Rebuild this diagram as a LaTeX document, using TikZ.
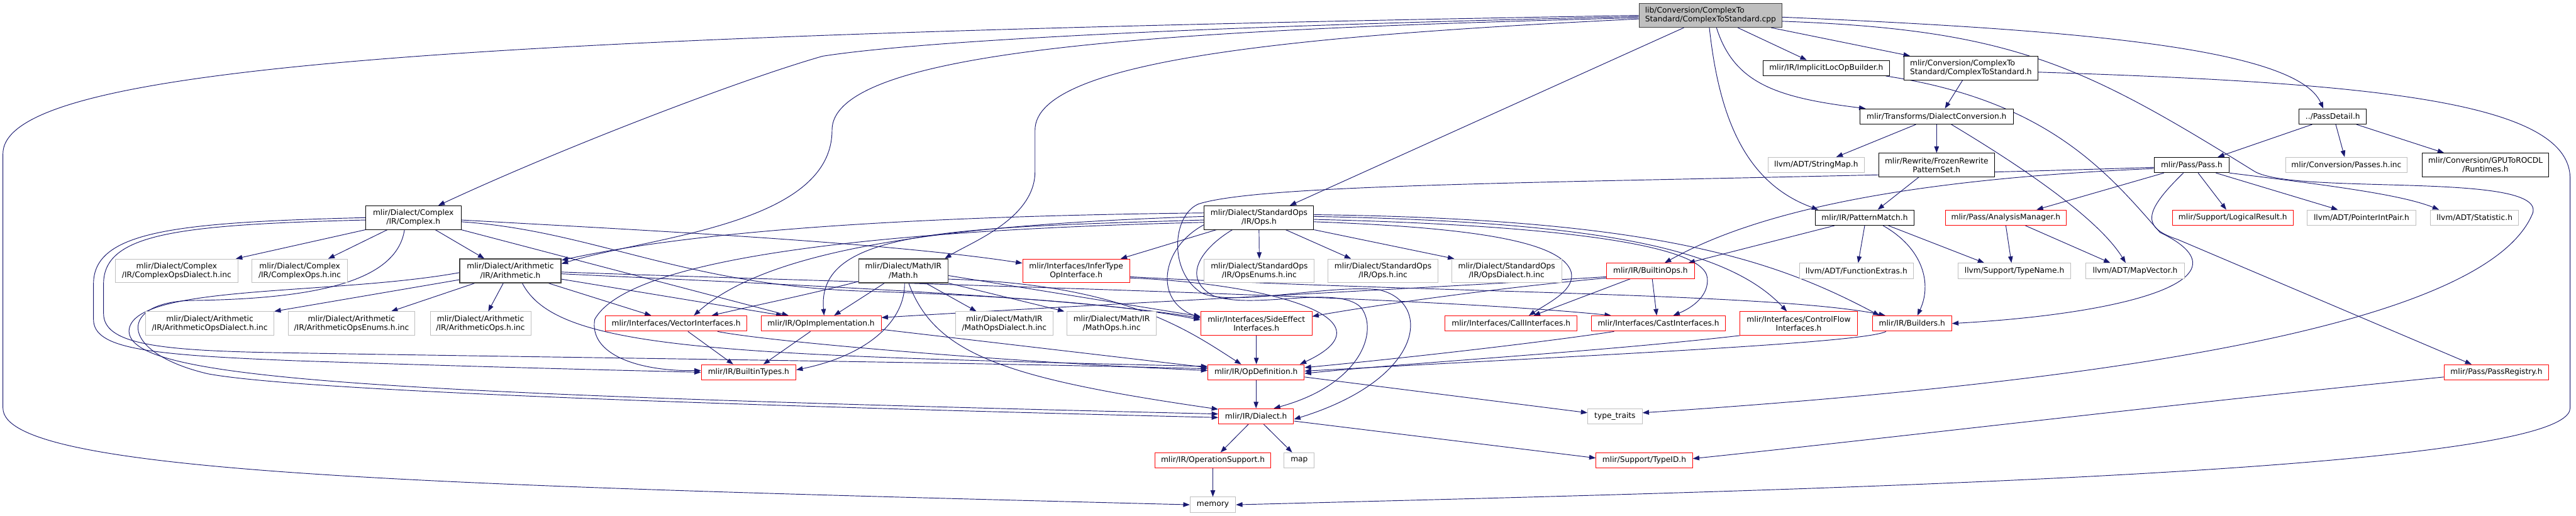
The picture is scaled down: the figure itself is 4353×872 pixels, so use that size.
\documentclass[tikz,border=0pt]{standalone}
\usepackage{fontspec}
\setmainfont{DejaVu Sans}
\usepackage{xcolor}
\usepackage{tikz}
\usetikzlibrary{arrows.meta, backgrounds}

\definecolor{edgecol}{HTML}{191970}
\definecolor{boxgray}{HTML}{BFBFBF}
\definecolor{boxred}{HTML}{FF0000}
\definecolor{boxdark}{HTML}{404040}

\begin{document}
\begin{tikzpicture}[
    x=1pt, y=-1pt,
    hdr/.style={rectangle, draw, fill=white, inner sep=0pt, align=center, line width=1pt,
      font=\fontsize{13}{15}\selectfont},
    docbox/.style={hdr, draw=black},
    redbox/.style={hdr, draw=boxred},
    sysbox/.style={hdr, draw=boxgray},
    darkbox/.style={hdr, draw=boxdark, line width=1.6pt},
    mainbox/.style={hdr, draw=boxdark, fill=boxgray, align=left, line width=1.6pt},
    dep/.style={draw=edgecol, line width=1pt, -{Triangle[length=11pt,width=8pt]}}
  ]
  \useasboundingbox (0,0) rectangle (4353,872);

  % Source file
  \node[mainbox, minimum width=241pt, minimum height=40pt] (cpp) at (2890.5,26) {lib/Conversion/ComplexTo\\Standard/ComplexToStandard.cpp};

  % Conversion and pass headers
  \node[docbox, minimum width=214pt, minimum height=26pt] (implicit) at (3086,115) {mlir/IR/ImplicitLocOpBuilder.h};
  \node[docbox, align=left, minimum width=227pt, minimum height=40pt] (cts) at (3330.5,115) {mlir/Conversion/ComplexTo\\Standard/ComplexToStandard.h};
  \node[docbox, minimum width=259pt, minimum height=26pt] (dconv) at (3272.5,197) {mlir/Transforms/DialectConversion.h};
  \node[docbox, minimum width=114pt, minimum height=26pt] (passdetail) at (3942,197) {../PassDetail.h};
  \node[sysbox, minimum width=162pt, minimum height=26pt] (stringmap) at (3069,279) {llvm/ADT/StringMap.h};
  \node[docbox, minimum width=195pt, minimum height=40pt] (frozen) at (3272.5,279) {mlir/Rewrite/FrozenRewrite\\PatternSet.h};
  \node[docbox, minimum width=127pt, minimum height=26pt] (pass) at (3703.5,279) {mlir/Pass/Pass.h};
  \node[sysbox, minimum width=206pt, minimum height=26pt] (passes) at (3965,279) {mlir/Conversion/Passes.h.inc};
  \node[docbox, minimum width=214pt, minimum height=40pt] (runtimes) at (4200,279) {mlir/Conversion/GPUToROCDL\\/Runtimes.h};

  % Dialect headers
  \node[docbox, minimum width=161pt, minimum height=40pt] (complex) at (698.5,368) {mlir/Dialect/Complex\\/IR/Complex.h};
  \node[docbox, minimum width=185pt, minimum height=40pt] (stdops) at (2127.5,368) {mlir/Dialect/StandardOps\\/IR/Ops.h};
  \node[docbox, minimum width=166pt, minimum height=26pt] (pattern) at (3151,368) {mlir/IR/PatternMatch.h};
  \node[redbox, minimum width=205pt, minimum height=26pt] (analysis) at (3389.5,368) {mlir/Pass/AnalysisManager.h};
  \node[redbox, minimum width=204pt, minimum height=26pt] (logical) at (3773,368) {mlir/Support/LogicalResult.h};
  \node[sysbox, minimum width=183pt, minimum height=26pt] (pointer) at (3990.5,368) {llvm/ADT/PointerIntPair.h};
  \node[sysbox, minimum width=149pt, minimum height=26pt] (statistic) at (4181.5,368) {llvm/ADT/Statistic.h};

  % Generated includes and op headers
  \node[sysbox, minimum width=207pt, minimum height=40pt] (cdialect) at (298.5,458) {mlir/Dialect/Complex\\/IR/ComplexOpsDialect.h.inc};
  \node[sysbox, minimum width=161pt, minimum height=40pt] (cops) at (506.5,458) {mlir/Dialect/Complex\\/IR/ComplexOps.h.inc};
  \node[darkbox, minimum width=171pt, minimum height=40pt] (arith) at (862.5,458) {mlir/Dialect/Arithmetic\\/IR/Arithmetic.h};
  \node[darkbox, minimum width=151pt, minimum height=40pt] (math) at (1526.5,458) {mlir/Dialect/Math/IR\\/Math.h};
  \node[redbox, minimum width=181pt, minimum height=40pt] (infer) at (1818.5,458) {mlir/Interfaces/InferType\\OpInterface.h};
  \node[sysbox, minimum width=186pt, minimum height=40pt] (opsenums) at (2128,458) {mlir/Dialect/StandardOps\\/IR/OpsEnums.h.inc};
  \node[sysbox, minimum width=186pt, minimum height=40pt] (opsinc) at (2337,458) {mlir/Dialect/StandardOps\\/IR/Ops.h.inc};
  \node[sysbox, minimum width=186pt, minimum height=40pt] (opsdialect) at (2546,458) {mlir/Dialect/StandardOps\\/IR/OpsDialect.h.inc};
  \node[redbox, minimum width=148pt, minimum height=26pt] (builtinops) at (2789,458) {mlir/IR/BuiltinOps.h};
  \node[sysbox, minimum width=192pt, minimum height=26pt] (funcextras) at (3137,458) {llvm/ADT/FunctionExtras.h};
  \node[sysbox, minimum width=190pt, minimum height=26pt] (typename) at (3404,458) {llvm/Support/TypeName.h};
  \node[sysbox, minimum width=166pt, minimum height=26pt] (mapvector) at (3608,458) {llvm/ADT/MapVector.h};

  \node[sysbox, minimum width=217pt, minimum height=40pt] (aopsdialect) at (354.5,547) {mlir/Dialect/Arithmetic\\/IR/ArithmeticOpsDialect.h.inc};
  \node[sysbox, minimum width=214pt, minimum height=40pt] (aopsenums) at (594,547) {mlir/Dialect/Arithmetic\\/IR/ArithmeticOpsEnums.h.inc};
  \node[sysbox, minimum width=170pt, minimum height=40pt] (aops) at (812,547) {mlir/Dialect/Arithmetic\\/IR/ArithmeticOps.h.inc};
  \node[redbox, minimum width=239pt, minimum height=26pt] (vector) at (1142.5,547) {mlir/Interfaces/VectorInterfaces.h};
  \node[redbox, minimum width=203pt, minimum height=26pt] (opimpl) at (1387.5,547) {mlir/IR/OpImplementation.h};
  \node[sysbox, minimum width=164pt, minimum height=40pt] (mathdialect) at (1697,547) {mlir/Dialect/Math/IR\\/MathOpsDialect.h.inc};
  \node[sysbox, minimum width=151pt, minimum height=40pt] (mathops) at (1878.5,547) {mlir/Dialect/Math/IR\\/MathOps.h.inc};
  \node[redbox, minimum width=188pt, minimum height=40pt] (sideeffect) at (2123,547) {mlir/Interfaces/SideEffect\\Interfaces.h};
  \node[redbox, minimum width=223pt, minimum height=26pt] (call) at (2553.5,547) {mlir/Interfaces/CallInterfaces.h};
  \node[redbox, minimum width=227pt, minimum height=26pt] (cast) at (2802.5,547) {mlir/Interfaces/CastInterfaces.h};
  \node[redbox, minimum width=199pt, minimum height=40pt] (controlflow) at (3039.5,547) {mlir/Interfaces/ControlFlow\\Interfaces.h};
  \node[redbox, minimum width=134pt, minimum height=26pt] (builders) at (3231,547) {mlir/IR/Builders.h};

  % Core IR headers
  \node[redbox, minimum width=160pt, minimum height=26pt] (builtintypes) at (1265,629.5) {mlir/IR/BuiltinTypes.h};
  \node[redbox, minimum width=163pt, minimum height=26pt] (opdef) at (2122.5,629.5) {mlir/IR/OpDefinition.h};
  \node[redbox, minimum width=177pt, minimum height=26pt] (passregistry) at (4218.5,629.5) {mlir/Pass/PassRegistry.h};
  \node[redbox, minimum width=127pt, minimum height=26pt] (dialect) at (2122.5,704) {mlir/IR/Dialect.h};
  \node[sysbox, minimum width=92pt, minimum height=26pt] (typetraits) at (2729,704) {type\_traits};
  \node[redbox, minimum width=195pt, minimum height=26pt] (opsupport) at (2049.5,778.5) {mlir/IR/OperationSupport.h};
  \node[sysbox, minimum width=51pt, minimum height=26pt] (map) at (2195.5,778.5) {map};
  \node[redbox, minimum width=163pt, minimum height=26pt] (typeid) at (2778.5,778.5) {mlir/Support/TypeID.h};
  \node[sysbox, minimum width=77pt, minimum height=26pt] (memory) at (2049.5,853.5) {memory};

  \begin{pgfonlayer}{background}
  \fill[white] (0,0) rectangle (4353,872);

  % includes of the .cpp file
  \draw[dep] (cpp.west) .. controls (800,60) and (5,110) .. (5,260) -- (5,690) .. controls (5,800) and (700,820) .. (memory.west);
  \draw[dep] ([yshift=-2pt]cpp.west) .. controls (2000,45) and (1550,70) .. (1390,95) .. controls (1250,135) and (950,250) .. ([xshift=42pt]complex.north);
  \draw[dep] ([yshift=-4pt]cpp.west) .. controls (2000,50) and (1406,80) .. (1406,220) .. controls (1406,380) and (1100,400) .. ([yshift=12pt]arith.east);
  \draw[dep] ([yshift=-6pt]cpp.west) .. controls (2200,60) and (1749,100) .. (1749,220) -- (1749,290) .. controls (1749,370) and (1640,410) .. ([xshift=70pt]math.north);
  \draw[dep] ([xshift=-45pt]cpp.south) -- ([xshift=52pt]stdops.north);
  \draw[dep] ([xshift=-2pt]cpp.south) .. controls (2905,200) and (2950,310) .. ([xshift=5pt]pattern.north west);
  \draw[dep] ([xshift=10pt]cpp.south) .. controls (2930,140) and (3000,165) .. ([xshift=10pt]dconv.north west);
  \draw[dep] ([xshift=46pt]cpp.south) -- ([xshift=-33pt]implicit.north);
  \draw[dep] ([xshift=-19pt]cpp.south east) -- ([xshift=11pt]cts.north west);
  \draw[dep] ([yshift=-3pt]cpp.east) .. controls (3500,50) and (3880,80) .. ([xshift=-16pt]passdetail.north);
  \draw[dep] ([yshift=-10pt]cpp.east) .. controls (3400,50) and (3520,110) .. (3810,290) .. controls (3880,330) and (4300,290) .. (4280,360) .. controls (4200,560) and (3500,650) .. ([yshift=6pt]typetraits.east);

  % conversion side
  \draw[dep] ([xshift=-14pt]cts.south) -- ([xshift=14pt]dconv.north);
  \draw[dep] ([yshift=-7pt]cts.east) .. controls (4000,140) and (4340,170) .. (4343,300) -- (4343,690) .. controls (4343,800) and (3000,830) .. (memory.east);
  \draw[dep] ([xshift=-7pt]implicit.south east) .. controls (3460,170) and (3560,290) .. (3650,393) .. controls (3810,470) and (3600,530) .. (builders.east);
  \draw[dep] ([xshift=-35pt]dconv.south) -- ([xshift=34pt]stringmap.north);
  \draw[dep] (dconv.south) -- (frozen.north);
  \draw[dep] ([xshift=25pt]dconv.south) .. controls (3380,260) and (3540,360) .. ([xshift=-16pt]mapvector.north);
  \draw[dep] ([xshift=-30pt]frozen.south) -- ([xshift=22pt]pattern.north);
  \draw[dep] ([xshift=-35pt]passdetail.south) -- ([xshift=44pt]pass.north);
  \draw[dep] ([xshift=5pt]passdetail.south) -- ([xshift=-3pt]passes.north);
  \draw[dep] ([xshift=40pt]passdetail.south) -- ([xshift=-70pt]runtimes.north);

  % pass headers
  \draw[dep] ([yshift=-4pt]pass.west) .. controls (2800,310) and (2150,305) .. (2025,345) .. controls (1980,365) and (1975,460) .. (2030,495) .. controls (2080,520) and (2250,480) .. (2330,490) .. controls (2420,510) and (2410,640) .. ([yshift=-5pt]dialect.east);
  \draw[dep] ([yshift=-6pt]pass.west) .. controls (3300,300) and (3000,340) .. ([xshift=24pt]builtinops.north);
  \draw[dep] ([xshift=-47pt]pass.south) -- ([xshift=52pt]analysis.north);
  \draw[dep] ([xshift=-14pt]pass.south) .. controls (3620,360) and (3620,385) .. (3680,405) -- ([xshift=-42pt]passregistry.north);
  \draw[dep] ([xshift=11pt]pass.south) -- ([xshift=-11pt]logical.north);
  \draw[dep] ([xshift=41pt]pass.south) -- ([xshift=-40pt]pointer.north);
  \draw[dep] (pass.south east) .. controls (3950,315) and (4060,330) .. ([xshift=-60pt]statistic.north);
  \draw[dep] ([xshift=-51pt]pattern.south) -- ([xshift=64pt]builtinops.north);
  \draw[dep] (pattern.south) -- ([xshift=3pt]funcextras.north);
  \draw[dep] ([xshift=31pt]pattern.south) .. controls (3250,420) and (3265,480) .. ([xshift=9pt]builders.north);
  \draw[dep] ([xshift=40pt]pattern.south) -- ([xshift=-51pt]typename.north);
  \draw[dep] (analysis.south) -- ([xshift=-5pt]typename.north);
  \draw[dep] ([xshift=33pt]analysis.south) -- ([xshift=-42pt]mapvector.north);
  \draw[dep] ([yshift=-8pt]passregistry.west) .. controls (3700,680) and (3200,740) .. ([yshift=3pt]typeid.east);

  % complex dialect
  \draw[dep] (complex.south west) -- ([xshift=100pt]cdialect.north);
  \draw[dep] ([xshift=-44pt]complex.south) -- ([xshift=48pt]cops.north);
  \draw[dep] ([xshift=37pt]complex.south) -- ([xshift=-44pt]arith.north);
  \draw[dep] (complex.south east) -- ([xshift=-55pt]opimpl.north);
  \draw[dep] ([yshift=-4pt]complex.east) .. controls (1100,390) and (1500,410) .. ([yshift=13pt]infer.west);
  \draw[dep] ([yshift=-7pt]complex.east) .. controls (1000,390) and (1150,480) .. (1450,492) .. controls (1700,500) and (1900,515) .. ([yshift=6pt]sideeffect.west);
  \draw[dep] (complex.west) .. controls (300,376) and (158,390) .. (158,480) -- (158,540) .. controls (158,590) and (250,600) .. (500,610) .. controls (800,620) and (1000,625) .. (builtintypes.west);
  \draw[dep] ([yshift=-4pt]complex.west) .. controls (300,380) and (175,395) .. (175,480) -- (175,530) .. controls (175,580) and (260,592) .. (450,596) .. controls (900,604) and (1600,612) .. ([yshift=6pt]opdef.west);
  \draw[dep] ([xshift=-15pt]complex.south) .. controls (670,480) and (520,505) .. (330,508) .. controls (200,508) and (195,595) .. (351,632) .. controls (500,660) and (1200,685) .. ([yshift=-2pt]dialect.west);

  % arithmetic dialect
  \draw[dep] ([yshift=-15pt]arith.west) -- (aopsdialect.north east);
  \draw[dep] ([xshift=-60pt]arith.south) -- ([xshift=67pt]aopsenums.north);
  \draw[dep] ([xshift=-12pt]arith.south) -- ([xshift=13pt]aops.north);
  \draw[dep] ([xshift=20pt]arith.south) .. controls (940,590) and (1200,600) .. ([yshift=10pt]opdef.west);
  \draw[dep] ([xshift=64pt]arith.south) -- ([xshift=-42pt]vector.north);
  \draw[dep] ([yshift=-14pt]arith.east) -- ([xshift=-65pt]opimpl.north);
  \draw[dep] ([yshift=-2pt]arith.east) .. controls (1500,480) and (2400,500) .. ([xshift=-80pt]cast.north);
  \draw[dep] ([yshift=-5pt]arith.east) .. controls (1300,480) and (1800,500) .. ([yshift=9pt]sideeffect.west);
  \draw[dep] ([yshift=-3pt]arith.west) .. controls (560,500) and (220,480) .. (218,560) .. controls (220,640) and (600,665) .. ([yshift=4pt]dialect.west);

  % math dialect
  \draw[dep] ([xshift=-32pt]math.south) -- ([xshift=22pt]opimpl.north);
  \draw[dep] ([xshift=2pt]math.south) .. controls (1530,540) and (1470,600) .. ([yshift=4pt]builtintypes.east);
  \draw[dep] ([xshift=9pt]math.south) .. controls (1580,600) and (1700,640) .. ([yshift=12pt]dialect.west);
  \draw[dep] ([xshift=38pt]math.south) -- ([xshift=-47pt]mathdialect.north);
  \draw[dep] (math.south east) -- ([xshift=-80pt]mathops.north);
  \draw[dep] ([yshift=-18pt]math.west) .. controls (1380,495) and (1260,520) .. ([xshift=60pt]vector.north);
  \draw[dep] ([yshift=-8pt]math.east) -- ([yshift=12pt]sideeffect.west);
  \draw[dep] ([yshift=-14pt]math.east) .. controls (1900,480) and (2010,560) .. ([xshift=-25pt]opdef.north);

  % standard ops dialect
  \draw[dep] ([yshift=8pt]stdops.west) .. controls (1600,365) and (1200,385) .. ([yshift=18pt]arith.east);
  \draw[dep] ([yshift=2pt]stdops.west) .. controls (1600,380) and (1300,420) .. ([xshift=30pt]vector.north);
  \draw[dep] ([yshift=-4pt]stdops.west) .. controls (1600,385) and (1380,390) .. ([xshift=5pt]opimpl.north);
  \draw[dep] ([yshift=-8pt]stdops.west) .. controls (1450,390) and (1060,440) .. (1005,540) .. controls (995,600) and (1080,628) .. ([yshift=3pt]builtintypes.west);
  \draw[dep] ([yshift=-12pt]stdops.west) .. controls (1960,420) and (1950,510) .. ([yshift=10pt]sideeffect.west);
  \draw[dep] ([xshift=-72pt]stdops.south) -- ([xshift=75pt]infer.north);
  \draw[dep] ([xshift=-45pt]stdops.south) .. controls (2030,420) and (1995,470) .. (2050,500) .. controls (2120,525) and (2260,480) .. (2300,520) .. controls (2330,560) and (2300,650) .. ([xshift=30pt]dialect.north);
  \draw[dep] (stdops.south) -- (opsenums.north);
  \draw[dep] ([xshift=45pt]stdops.south) -- ([xshift=-54pt]opsinc.north);
  \draw[dep] (stdops.south east) -- ([xshift=5pt]opsdialect.north west);
  \draw[dep] ([yshift=-7pt]stdops.east) .. controls (2500,385) and (2640,410) .. (2655,460) .. controls (2662,490) and (2620,510) .. ([xshift=30pt]call.north);
  \draw[dep] ([yshift=-3pt]stdops.east) .. controls (2600,380) and (2880,410) .. (2885,470) .. controls (2888,500) and (2860,520) .. ([xshift=25pt]cast.north);
  \draw[dep] ([yshift=2pt]stdops.east) .. controls (2700,375) and (2920,420) .. ([xshift=-20pt]controlflow.north);
  \draw[dep] ([yshift=5pt]stdops.east) .. controls (2800,370) and (3000,440) .. ([xshift=-55pt]builders.north);

  % interfaces
  \draw[dep] ([yshift=-10pt]infer.east) .. controls (2400,495) and (3000,495) .. ([xshift=-45pt]builders.north);
  \draw[dep] ([yshift=-12pt]infer.east) .. controls (2150,480) and (2360,540) .. ([xshift=-8pt]opdef.north east);
  \draw[dep] ([yshift=-10pt]builtinops.west) .. controls (2400,488) and (1900,512) .. ([yshift=10pt]opimpl.east);
  \draw[dep] ([yshift=-12pt]builtinops.west) .. controls (2500,490) and (2300,520) .. ([yshift=12pt]sideeffect.east);
  \draw[dep] ([xshift=-34pt]builtinops.south) -- ([xshift=38pt]call.north);
  \draw[dep] ([xshift=3pt]builtinops.south) -- ([xshift=-3pt]cast.north);
  \draw[dep] ([xshift=-18pt]opimpl.south) -- ([xshift=25pt]builtintypes.north);
  \draw[dep] ([yshift=-10pt]opimpl.east) -- ([yshift=8pt]opdef.west);
  \draw[dep] ([xshift=20pt]vector.south) -- ([xshift=-26pt]builtintypes.north);
  \draw[dep] ([xshift=70pt]vector.south) .. controls (1300,578) and (1700,612) .. ([yshift=3pt]opdef.west);
  \draw[dep] (sideeffect.south) -- ([xshift=0.5pt]opdef.north);
  \draw[dep] ([xshift=-75pt]cast.south) .. controls (2600,580) and (2350,608) .. ([yshift=8pt]opdef.east);
  \draw[dep] (controlflow.south west) .. controls (2700,595) and (2400,612) .. ([yshift=-2pt]opdef.east);
  \draw[dep] ([xshift=-44pt]builders.south) .. controls (3150,580) and (2700,600) .. ([yshift=2pt]opdef.east);

  % core IR
  \draw[dep] (opdef.south) -- (dialect.north);
  \draw[dep] ([yshift=-8pt]opdef.east) -- ([yshift=6pt]typetraits.west);
  \draw[dep] ([xshift=-13pt]dialect.south) -- ([xshift=13pt]opsupport.north);
  \draw[dep] ([xshift=13pt]dialect.south) -- ([xshift=-12pt]map.north);
  \draw[dep] ([yshift=-8pt]dialect.east) -- ([yshift=4pt]typeid.west);
  \draw[dep] (opsupport.south) -- (memory.north);
  \end{pgfonlayer}
\end{tikzpicture}
\end{document}
